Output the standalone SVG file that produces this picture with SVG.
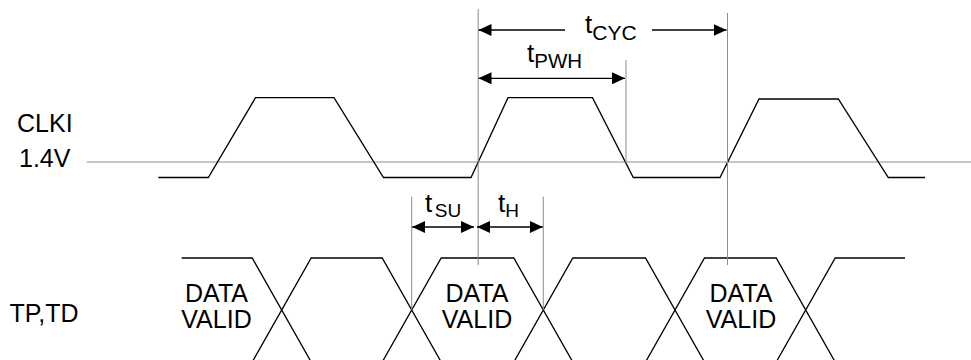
<svg xmlns="http://www.w3.org/2000/svg" width="971" height="360" viewBox="0 0 971 360">
<style>
text{font-family:"Liberation Sans",Arial,sans-serif;fill:#000}
.lbl{font-size:25px}
.dv{font-size:25px;text-anchor:middle}
.t{font-size:26px}
.sb{font-size:21px}
.ss{font-size:19px}
.wave{fill:none;stroke:#000;stroke-width:1.3;stroke-linejoin:miter}
.ref{fill:none;stroke:#8c8c8c;stroke-width:1}
.dim{fill:none;stroke:#000;stroke-width:1.3}
</style>
<defs>
<marker id="ah" viewBox="0 0 13 12" refX="13" refY="6" markerWidth="13" markerHeight="12" orient="auto-start-reverse" markerUnits="userSpaceOnUse">
<path d="M0,0 L13,6 L0,12 z" fill="#000"/>
</marker>
</defs>
<rect width="971" height="360" fill="#fff"/>

<g id="labels">
<text class="lbl" x="17" y="131.5">CLKI</text>
<text class="lbl" x="19" y="166.5">1.4V</text>
<text class="lbl" x="9.5" y="321.5">TP,TD</text>
</g>

<g id="threshold-1v4">
<line class="ref" x1="86.7" y1="162" x2="971" y2="162"/>
</g>

<g id="clki-wave">
<path class="wave" d="M158.3,177.5 H208.3 L255.5,97.7 H334 L383.5,177.5 H471 L508,97.7 H592.5 L633.3,177.5 H720 L759,99 H838.3 L888.3,177.5 H925"/>
</g>

<g id="data-wave">
<path class="wave" d="M181.7,258 H252.2 L310.6,361 M252.8,361 L311.2,258 H382.2 L440.6,361 M382.8,361 L441.2,258 H513.8 L572.2,361 M514.4,361 L572.8,258 H645.5 L703.9,361 M646.1,361 L704.5,258 H776.2 L834.6,361 M776.8,361 L835.2,258 H905"/>
<text class="dv" x="216.5" y="301.5">DATA</text>
<text class="dv" x="216.5" y="328.3">VALID</text>
<text class="dv" x="477" y="301.5">DATA</text>
<text class="dv" x="477" y="328.3">VALID</text>
<text class="dv" x="741" y="301.5">DATA</text>
<text class="dv" x="741" y="328.3">VALID</text>
</g>

<g id="timing-labels">
<text class="t" x="585" y="33">t<tspan class="sb" dy="7">CYC</tspan></text>
<text class="t" x="527" y="61.7">t<tspan class="sb" dy="6.6" style="font-size:20.5px">PWH</tspan></text>
<text class="t" x="425" y="211.5">t<tspan class="ss" dx="2.5" dy="5.5">SU</tspan></text>
<text class="t" x="498" y="211.5">t<tspan class="ss" dy="5.5">H</tspan></text>
</g>

<g id="connectors">
<line class="ref" x1="478.2" y1="9" x2="478.2" y2="265"/>
<line class="ref" x1="626" y1="60" x2="626" y2="163"/>
<line class="ref" x1="727.5" y1="13" x2="727.5" y2="265"/>
<line class="ref" x1="411.7" y1="196.7" x2="411.7" y2="310"/>
<line class="ref" x1="543.3" y1="196.7" x2="543.3" y2="310"/>
<line class="dim" x1="565" y1="30" x2="478.5" y2="30" marker-end="url(#ah)"/>
<line class="dim" x1="652" y1="30" x2="726.5" y2="30" marker-end="url(#ah)"/>
<line class="dim" x1="478.5" y1="78.3" x2="625" y2="78.3" marker-start="url(#ah)" marker-end="url(#ah)"/>
<line class="dim" x1="412.2" y1="227" x2="474" y2="227" marker-start="url(#ah)" marker-end="url(#ah)"/>
<line class="dim" x1="477" y1="227" x2="542.8" y2="227" marker-start="url(#ah)" marker-end="url(#ah)"/>
</g>
</svg>
